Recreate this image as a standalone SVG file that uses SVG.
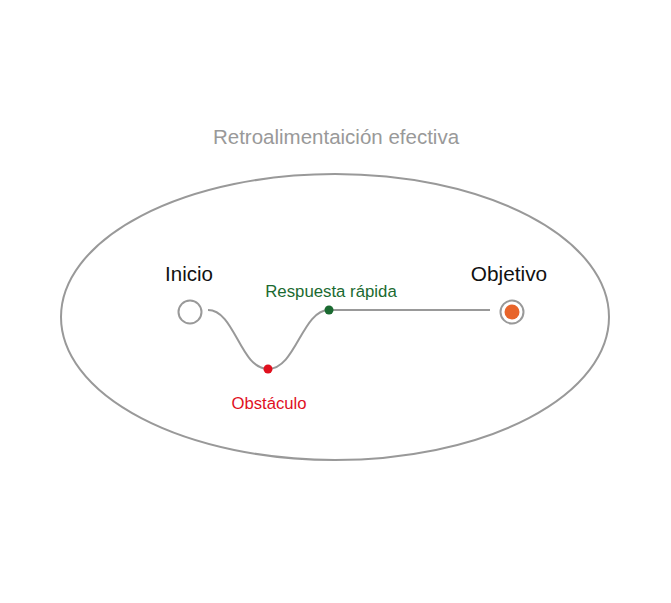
<svg xmlns="http://www.w3.org/2000/svg" width="671" height="603" viewBox="0 0 671 603">
<style>
.t{font-family:"Liberation Sans",Arial,sans-serif}
.ln{fill:none;stroke:#999;stroke-width:2}
</style>
<rect width="671" height="603" fill="#fff"/>
<g id="frame">
<ellipse cx="335" cy="317" rx="274" ry="143" class="ln"/>
<text x="336" y="144" text-anchor="middle" class="t" font-size="20.5" fill="#999">Retroalimentaición efectiva</text>
</g>
<g id="connectors">
<path class="ln" d="M208,310 C235,310 240,369 268,369 C296,369 302,310 329,310 L490,310"/>
</g>
<g id="start">
<circle cx="190" cy="312" r="11.5" fill="#fff" stroke="#999" stroke-width="2"/>
<text x="189" y="281" text-anchor="middle" class="t" font-size="20.5" fill="#111">Inicio</text>
</g>
<g id="obstacle">
<circle cx="268" cy="369" r="4.5" fill="#e0101e"/>
<text x="269" y="409" text-anchor="middle" class="t" font-size="16.7" fill="#e0101e">Obstáculo</text>
</g>
<g id="response">
<circle cx="329" cy="310" r="4.5" fill="#1a6a30"/>
<text x="331" y="297" text-anchor="middle" class="t" font-size="16.8" fill="#1a6a30">Respuesta rápida</text>
</g>
<g id="goal">
<circle cx="512" cy="312" r="11.5" fill="#fff" stroke="#999" stroke-width="2"/>
<circle cx="512" cy="312" r="7.5" fill="#e8642a"/>
<text x="509" y="281" text-anchor="middle" class="t" font-size="20.8" fill="#111">Objetivo</text>
</g>
</svg>
